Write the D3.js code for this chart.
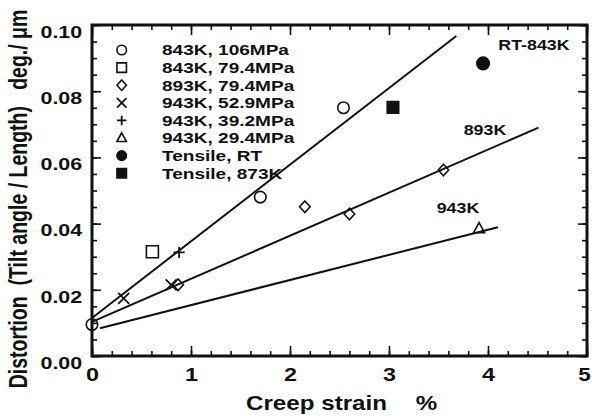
<!DOCTYPE html>
<html>
<head>
<meta charset="utf-8">
<script src="https://cdn.jsdelivr.net/npm/d3@7"></script>
<style>
  body { margin: 0; background: #fff; }
  svg text { font-family: "Liberation Sans", Arial, sans-serif; font-weight: bold; fill: #111; }
</style>
</head>
<body>
<div class="chartContainer"></div>
<script>
// data
var xTicks = [0, 1, 2, 3, 4, 5];
var yTicks = [0.00, 0.02, 0.04, 0.06, 0.08, 0.10];

var circle106 = [[0, 0.0095], [1.70, 0.048], [2.54, 0.075]];
var square794 = [[0.61, 0.0315]];
var diamond893 = [[0.87, 0.0215], [2.15, 0.0451], [2.60, 0.0429], [3.55, 0.0562]];
var cross529 = [[0.32, 0.0174], [0.80, 0.0215]];
var plus392 = [[0.88, 0.0313]];
var tri294 = [[3.91, 0.0385]];
var tensileRT = [[3.95, 0.0884]];
var tensile873 = [[3.04, 0.0751]];

var legendLabels = ['843K, 106MPa', '843K, 79.4MPa', '893K, 79.4MPa', '943K, 52.9MPa',
                    '943K, 39.2MPa', '943K, 29.4MPa', 'Tensile, RT', 'Tensile, 873K'];
var legendSymbols = ['circle', 'square', 'diamond', 'times', 'plus', 'triangle', 'fcircle', 'fsquare'];

// fitted lines, two ends each
var lineRT = [[0, 0.0115], [3.68, 0.0967]];
var line893 = [[0, 0.0103], [4.51, 0.069]];
var line943 = [[0.08, 0.0084], [4.10, 0.0389]];
var lineNames = ['RT-843K', '893K', '943K'];

const width = 592;
const height = 416;
const pLeft = 92, pRight = 587, pTop = 25, pBottom = 356;

const xScale = d3.scaleLinear().domain([0, 5]).range([pLeft, pRight]);
const yScale = d3.scaleLinear().domain([0, 0.10]).range([pBottom, pTop]);

const svg = d3.select('.chartContainer')
              .append('svg')
                .attr('width', width)
                .attr('height', height);

// symbol paths, s = full width
function symbolPath(type, s) {
    const h = s / 2;
    switch (type) {
        case 'circle': case 'fcircle':
            return `M${-h},0A${h},${h} 0 1,0 ${h},0A${h},${h} 0 1,0 ${-h},0Z`;
        case 'square': case 'fsquare':
            return `M${-h},${-h}H${h}V${h}H${-h}Z`;
        case 'diamond':
            return `M0,${-h * 1.1}L${h},0L0,${h * 1.1}L${-h},0Z`;
        case 'times':
            return `M${-h},${-h}L${h},${h}M${h},${-h}L${-h},${h}`;
        case 'plus':
            return `M${-h},0H${h}M0,${-h}V${h}`;
        case 'triangle':
            return `M0,${-h * 1.1}L${h},${h * 0.75}L${-h},${h * 0.75}Z`;
    }
}
function drawSymbol(g, type, x, y, s) {
    const filled = type === 'fcircle' || type === 'fsquare';
    g.append('path')
        .attr('d', symbolPath(type, s))
        .attr('transform', `translate(${x},${y})`)
        .attr('fill', filled ? '#111' : 'none')
        .attr('stroke', '#111')
        .attr('stroke-width', type === 'times' || type === 'plus' ? 1.8 : 1.6);
}

// axes with inward ticks
function minorVals(a, b, step) {
    const out = [];
    for (let v = a; v <= b + 1e-9; v += step) out.push(+v.toFixed(4));
    return out;
}
const xMinor = minorVals(0, 5, 0.2);
const yMinor = minorVals(0, 0.10, 0.005);

svg.append('g').attr('transform', `translate(0,${pBottom})`)
    .call(d3.axisBottom(xScale).tickValues(xMinor).tickSize(-5).tickFormat(''));
const xAxisG = svg.append('g').attr('transform', `translate(0,${pBottom})`)
    .call(d3.axisBottom(xScale).tickValues(xTicks).tickSize(-10).tickPadding(12).tickFormat(d3.format('d')));
svg.append('g').attr('transform', `translate(0,${pTop})`)
    .call(d3.axisTop(xScale).tickValues(xMinor).tickSize(-5).tickFormat(''));
svg.append('g').attr('transform', `translate(0,${pTop})`)
    .call(d3.axisTop(xScale).tickValues(xTicks).tickSize(-10).tickFormat(''));

svg.append('g').attr('transform', `translate(${pLeft},0)`)
    .call(d3.axisLeft(yScale).tickValues(yMinor).tickSize(-5).tickFormat(''));
const yAxisG = svg.append('g').attr('transform', `translate(${pLeft},0)`)
    .call(d3.axisLeft(yScale).tickValues(yTicks).tickSize(-9).tickPadding(6).tickFormat(d3.format('.2f')));
svg.append('g').attr('transform', `translate(${pRight},0)`)
    .call(d3.axisRight(yScale).tickValues(yMinor).tickSize(-5).tickFormat(''));
svg.append('g').attr('transform', `translate(${pRight},0)`)
    .call(d3.axisRight(yScale).tickValues(yTicks).tickSize(-9).tickFormat(''));

svg.selectAll('.domain').remove();
svg.selectAll('.tick line').attr('stroke', '#111').attr('stroke-width', 1.6);
svg.selectAll('.tick text')
    .attr('font-family', '"Liberation Sans", Arial, sans-serif')
    .attr('font-weight', 'bold')
    .attr('fill', '#111');

// tick label styling (wide bold look of the scan)
xAxisG.selectAll('.tick text')
    .attr('font-size', 18)
    .attr('transform', d => d === 5 ? 'translate(-3,0) scale(1.25,1)' : 'scale(1.3,1)');
yAxisG.selectAll('.tick text')
    .attr('font-size', 16.5)
    .attr('dy', '0.75em')
    .attr('transform', 'translate(-2,0) scale(1.3,1)');

// frame
svg.append('rect')
    .attr('x', pLeft).attr('y', pTop)
    .attr('width', pRight - pLeft).attr('height', pBottom - pTop)
    .attr('fill', 'none').attr('stroke', '#111').attr('stroke-width', 3);

// fitted lines
const line = d3.line().x(d => xScale(d[0])).y(d => yScale(d[1]));
[lineRT, line893, line943].forEach(function (pts) {
    svg.append('path').attr('d', line(pts))
        .attr('fill', 'none').attr('stroke', '#111').attr('stroke-width', 2);
});

// line names
const namePos = [[534, 50], [485, 135], [458, 213]];
lineNames.forEach(function (n, i) {
    svg.append('text')
        .attr('transform', `translate(${namePos[i][0]},${namePos[i][1]}) scale(1.15,1)`)
        .attr('text-anchor', 'middle')
        .attr('font-size', 15.5)
        .text(n);
});

// data points
const pts = svg.append('g');
const series = [
    [circle106, 'circle', 11.5], [square794, 'square', 12], [diamond893, 'diamond', 10.5],
    [cross529, 'times', 11], [plus392, 'plus', 11], [tri294, 'triangle', 11],
    [tensileRT, 'fcircle', 12.5], [tensile873, 'fsquare', 11.5]
];
series.forEach(function (s) {
    s[0].forEach(function (d) { drawSymbol(pts, s[1], xScale(d[0]), yScale(d[1]), s[2]); });
});

// legend
const leg = svg.append('g');
legendLabels.forEach(function (lab, i) {
    const y = 50 + i * 17.6;
    drawSymbol(leg, legendSymbols[i], 121.7, y, 9.5);
    leg.append('text')
        .attr('transform', `translate(162,${y + 5.3}) scale(1.27,1)`)
        .attr('font-size', 15)
        .text(lab);
});

// axis titles
const xt = svg.append('text')
    .attr('transform', 'translate(246,410) scale(1.24,1)')
    .attr('font-size', 19.5);
xt.append('tspan').attr('x', 0).text('Creep strain');
xt.append('tspan').attr('x', 137).text('%');

svg.append('text')
    .attr('transform', 'translate(27,199) rotate(-90) scale(1,1.3)')
    .attr('text-anchor', 'middle')
    .attr('font-size', 19.5)
    .attr('xml:space', 'preserve')
    .text('Distortion  (Tilt angle / Length)   deg./ \u03bcm');
</script>
</body>
</html>
